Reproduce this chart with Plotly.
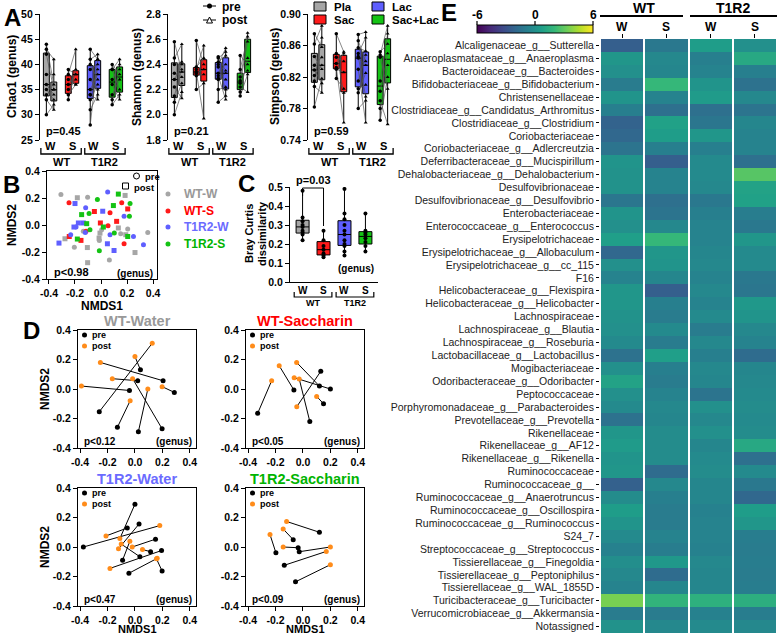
import plotly.graph_objects as go

W, H = 778, 635
FONT = "Liberation Sans, Arial, sans-serif"

GROUP_COLORS = ["#a6a6a6", "#ff1a1a", "#5f5fff", "#14c314"]
TEXT_COLORS = ["#999999", "#ff0000", "#6b6bff", "#00b400"]
ORANGE = "#ff8c1a"

# ---------------- A: alpha diversity (groups WT-W, WT-S, T1R2-W, T1R2-S) ----------------
chao1_pre = [
    [44, 43, 42, 38, 36, 35, 34, 33, 30],
    [39, 38, 37, 36, 35, 34, 33],
    [43, 41, 40, 39, 37, 35, 34, 34, 33, 31, 28],
    [40, 39, 39, 37, 36, 34, 33, 32],
]
chao1_post = [
    [36, 41, 35, 38, 34, 33, 35, 31, 32],
    [38, 43, 36, 38, 37, 36, 39],
    [41, 42, 37, 40, 35, 38, 39, 33, 36, 34, 41],
    [38, 41, 35, 40, 33, 37, 39, 34],
]
shannon_pre = [
    [2.58, 2.45, 2.40, 2.33, 2.28, 2.22, 2.15, 2.10, 2.00],
    [2.59, 2.38, 2.36, 2.34, 2.33, 2.31, 2.20],
    [2.46, 2.45, 2.42, 2.40, 2.38, 2.33, 2.31, 2.29, 2.28, 2.20, 2.10],
    [2.47, 2.36, 2.30, 2.27, 2.25, 2.22, 2.18, 2.15],
]
shannon_post = [
    [2.34, 2.56, 2.42, 2.30, 2.40, 2.13, 2.36, 2.25, 2.18],
    [2.40, 2.45, 2.55, 1.97, 2.36, 2.32, 2.25],
    [2.35, 2.50, 2.47, 2.53, 2.20, 2.40, 2.12, 2.28, 2.33, 2.22, 2.15],
    [2.40, 2.62, 2.35, 2.65, 2.58, 2.18, 2.45, 2.32],
]
simpson_pre = [
    [0.875, 0.862, 0.846, 0.835, 0.829, 0.822, 0.815, 0.808, 0.782],
    [0.875, 0.850, 0.845, 0.837, 0.832, 0.830, 0.818],
    [0.874, 0.866, 0.857, 0.850, 0.846, 0.844, 0.830, 0.815, 0.805, 0.800, 0.780],
    [0.852, 0.848, 0.845, 0.815, 0.802, 0.790, 0.780, 0.765],
]
simpson_post = [
    [0.858, 0.885, 0.830, 0.845, 0.812, 0.835, 0.870, 0.800, 0.818],
    [0.852, 0.800, 0.840, 0.850, 0.762, 0.826, 0.805],
    [0.877, 0.840, 0.853, 0.870, 0.795, 0.835, 0.762, 0.848, 0.810, 0.825, 0.790],
    [0.862, 0.885, 0.805, 0.875, 0.850, 0.760, 0.835, 0.820],
]

# ---------------- B: NMDS of all samples ----------------
nmds_wt_w_x = [-0.308, -0.182, -0.103, 0.185, -0.136, -0.277, -0.205, -0.105, -0.013, -0.008,
               0.005, 0.133, 0.205, 0.19, 0.151, 0.261, 0.359, -0.103, 0.064, -0.015]
nmds_wt_w_y = [0.226, 0.202, 0.206, 0.219, -0.047, -0.102, -0.164, -0.167, -0.114, -0.06,
               -0.035, -0.022, -0.03, -0.072, -0.065, -0.204, -0.055, -0.279, -0.259, -0.097]
nmds_wt_s_x = [-0.246, -0.051, -0.115, -0.154, 0.069, -0.005, 0.054, 0.12, 0.159, 0.205, 0.177, -0.244]
nmds_wt_s_y = [0.164, 0.1, -0.047, -0.114, 0.09, 0.015, -0.005, 0.027, 0.164, 0.119, -0.139, -0.085]
nmds_t1r2_w_x = [0.051, -0.2, -0.118, 0.013, 0.177, -0.174, -0.192, -0.208, -0.233, -0.323,
                 -0.121, 0.049, 0.069, 0.1, 0.326, -0.136, 0.249]
nmds_t1r2_w_y = [0.244, 0.159, 0.127, 0.102, 0.065, 0.015, -0.015, -0.015, -0.072, -0.134,
                 -0.055, -0.139, -0.072, -0.189, -0.147, 0.015, -0.085]
nmds_t1r2_s_x = [-0.028, 0.133, 0.223, 0.095, -0.092, -0.149, 0.218, -0.11, -0.085, 0.018,
                 0.102, -0.182, -0.013, 0.205]
nmds_t1r2_s_y = [0.189, 0.229, 0.159, 0.144, 0.085, 0.077, 0.065, 0.01, -0.035, -0.015,
                 -0.06, -0.104, -0.191, -0.085]

# ---------------- C: Bray-Curtis dissimilarity pre vs post ----------------
bc_wt_w = [0.48, 0.34, 0.32, 0.30, 0.29, 0.27, 0.26, 0.25, 0.22]
bc_wt_s = [0.27, 0.22, 0.19, 0.17, 0.15, 0.14, 0.13]
bc_t1r2_w = [0.49, 0.36, 0.33, 0.30, 0.27, 0.25, 0.22, 0.20, 0.19, 0.16, 0.14]
bc_t1r2_s = [0.36, 0.27, 0.26, 0.25, 0.23, 0.21, 0.19, 0.16]

# ---------------- D: per-animal NMDS shift (pre -> post) ----------------
wtw_pre_x = [-0.26, 0.205, -0.04, 0.02, 0.04, -0.128, 0.025, 0.287, 0.198]
wtw_pre_y = [-0.154, 0.056, -0.01, 0.056, 0.13, -0.26, -0.29, -0.023, -0.27]
wtw_post_x = [0.126, -0.252, -0.39, -0.165, 0.0, -0.035, 0.094, 0.198, -0.017]
wtw_post_y = [0.31, 0.18, 0.02, 0.07, 0.22, -0.08, 0.0, 0.016, 0.07]

wts_pre_x = [-0.33, -0.066, 0.12, 0.2, 0.05, 0.13, 0.15]
wts_pre_y = [-0.165, -0.007, 0.02, 0.0, -0.22, 0.12, -0.1]
wts_post_x = [-0.228, -0.173, -0.046, -0.064, -0.027, -0.045, 0.1]
wts_post_y = [0.056, 0.158, 0.18, 0.077, 0.068, -0.12, -0.05]

t1w_pre_x = [-0.376, 0.0, 0.03, -0.056, -0.09, 0.15, 0.114, 0.194, -0.044, 0.198, 0.036]
t1w_pre_y = [0.0, 0.29, 0.156, 0.129, -0.089, 0.053, -0.032, -0.024, -0.178, -0.163, -0.066]
t1w_post_x = [0.181, -0.11, -0.12, -0.211, -0.037, -0.02, 0.055, -0.182, 0.162, 0.157, -0.1]
t1w_post_y = [0.145, 0.057, -0.012, 0.075, 0.039, 0.0, -0.017, -0.145, -0.077, -0.08, 0.02]

t1s_pre_x = [-0.071, -0.197, -0.035, 0.12, -0.027, -0.136, -0.054]
t1s_pre_y = [0.05, -0.039, -0.005, 0.1, -0.032, -0.124, -0.236]
t1s_post_x = [-0.144, -0.24, -0.144, -0.119, 0.2, 0.17, 0.2]
t1s_post_y = [0.122, 0.084, 0.0, 0.173, 0.0, -0.03, -0.12]

# ---------------- E: heatmap of log2 fold change ----------------
heat_taxa = [
    "Alcaligenaceae_g__Sutterella", "Anaeroplasmataceae_g__Anaeroplasma", "Bacteroidaceae_g__Bacteroides",
    "Bifidobacteriaceae_g__Bifidobacterium", "Christensenellaceae", "Clostridiaceae_g__Candidatus_Arthromitus",
    "Clostridiaceae_g__Clostridium", "Coriobacteriaceae", "Coriobacteriaceae_g__Adlercreutzia",
    "Deferribacteraceae_g__Mucispirillum", "Dehalobacteriaceae_g__Dehalobacterium", "Desulfovibrionaceae",
    "Desulfovibrionaceae_g__Desulfovibrio", "Enterobacteriaceae", "Enterococcaceae_g__Enterococcus",
    "Erysipelotrichaceae", "Erysipelotrichaceae_g__Allobaculum", "Erysipelotrichaceae_g__cc_115", "F16",
    "Helicobacteraceae_g__Flexispira", "Helicobacteraceae_g__Helicobacter", "Lachnospiraceae",
    "Lachnospiraceae_g__Blautia", "Lachnospiraceae_g__Roseburia", "Lactobacillaceae_g__Lactobacillus",
    "Mogibacteriaceae", "Odoribacteraceae_g__Odoribacter", "Peptococcaceae",
    "Porphyromonadaceae_g__Parabacteroides", "Prevotellaceae_g__Prevotella", "Rikenellaceae",
    "Rikenellaceae_g__AF12", "Rikenellaceae_g__Rikenella", "Ruminococcaceae", "Ruminococcaceae_g__",
    "Ruminococcaceae_g__Anaerotruncus", "Ruminococcaceae_g__Oscillospira", "Ruminococcaceae_g__Ruminococcus",
    "S24_7", "Streptococcaceae_g__Streptococcus", "Tissierellaceae_g__Finegoldia",
    "Tissierellaceae_g__Peptoniphilus", "Tissierellaceae_g__WAL_1855D", "Turicibacteraceae_g__Turicibacter",
    "Verrucomicrobiaceae_g__Akkermansia", "Notassigned",
]
heat_wt_w = [-2.4, 0.3, 0.0, -1.0, 0.2, -0.8, -2.2, -2.0, -1.4, 0.2, 0.1, 0.1, -1.3, 0.2, 0.0, 0.7,
             -2.0, 0.0, -0.6, 0.3, 0.3, 0.1, 0.0, -0.3, -1.5, 0.0, 0.9, 0.0, -0.3, -1.5, 0.3, 0.5,
             0.2, 0.3, -2.3, -0.2, 0.6, 0.2, -0.3, -0.7, -0.1, -0.4, -0.6, 3.5, -1.0, 0.1]
heat_wt_s = [-1.2, -0.4, -0.5, 2.0, -0.6, -1.6, 0.8, 0.6, -0.8, -2.4, -0.6, -0.6, -1.6, -1.4, -0.4, 2.0,
             0.3, 0.2, -0.5, -2.4, -0.8, -1.0, -0.3, -1.0, 0.7, -0.8, -1.0, -0.6, -0.4, -0.5, -0.2, -0.2,
             -0.2, -1.8, -0.4, -0.8, -1.0, -1.0, -0.6, -0.9, 0.4, -1.8, -0.5, 1.8, -1.0, -0.4]
heat_t1r2_w = [0.6, -0.8, -0.6, 0.2, 0.5, -1.6, -1.3, 0.3, -0.8, -0.3, -0.3, -0.4, -1.2, -0.8, -0.6, -0.6,
               -0.5, -0.4, -0.6, -0.4, -0.6, -0.3, -1.0, -0.4, -0.8, -0.4, -0.5, -1.4, 0.0, -0.4, 0.0, -0.5,
               -0.3, -0.2, -0.5, -0.5, -0.7, -0.6, -0.6, -0.7, -0.4, -0.5, -0.5, 1.6, -0.7, -0.3]
heat_t1r2_s = [0.0, 1.2, -0.8, -1.5, -0.4, -1.4, -0.5, -0.6, -0.6, -1.6, 2.8, 0.9, 0.8, -0.9, -1.2, 0.3,
               -0.3, -0.3, -1.2, -1.3, 0.4, 0.2, -0.4, -0.6, -1.8, -0.5, -0.4, -0.3, -0.2, -0.3, -0.2, 1.2,
               -1.6, -0.3, -1.2, -2.0, 0.6, 0.3, -0.9, -1.0, -0.9, -1.0, -0.9, 1.5, -0.9, -0.4]


fig = go.Figure()
layout = dict(width=W, height=H, margin=dict(l=0, r=0, t=0, b=0, autoexpand=False),
              paper_bgcolor="white", plot_bgcolor="white", showlegend=False,
              font=dict(family=FONT, size=11, color="black"))
shapes, annotations = [], []


def fx(p):
    return p / W


def fy(p):
    return 1 - p / H


def ann(text, x, y, size=11, color="black", bold=True, xanchor="center", yanchor="middle",
        angle=0, xref="paper"):
    annotations.append(dict(
        text=text, x=fx(x) if xref == "paper" else x, y=fy(y), xref=xref, yref="paper",
        showarrow=False, textangle=angle, xanchor=xanchor, yanchor=yanchor,
        font=dict(family=FONT, size=size, color=color, weight="bold" if bold else "normal")))


def seg(x0, y0, x1, y1, xref="paper", width=1.2, color="black"):
    if xref == "paper":
        x0, x1 = fx(x0), fx(x1)
    shapes.append(dict(type="line", x0=x0, x1=x1, y0=fy(y0), y1=fy(y1), xref=xref, yref="paper",
                       line=dict(color=color, width=width)))


def add_axes(n, xdom, ydom, xopts, yopts):
    xk = "xaxis" if n == 1 else f"xaxis{n}"
    yk = "yaxis" if n == 1 else f"yaxis{n}"
    xid = "x" if n == 1 else f"x{n}"
    yid = "y" if n == 1 else f"y{n}"
    layout[xk] = dict(domain=[fx(xdom[0]), fx(xdom[1])], anchor=yid, showgrid=False, zeroline=False,
                      fixedrange=True, **xopts)
    layout[yk] = dict(domain=[fy(ydom[1]), fy(ydom[0])], anchor=xid, showgrid=False, zeroline=False,
                      fixedrange=True, **yopts)
    return xid, yid


TICKFONT = dict(family=FONT, size=10.5, color="black", weight="bold")
AXLINE = dict(showline=True, linecolor="black", linewidth=1.3, ticks="outside", ticklen=4,
              tickwidth=1.3, tickcolor="black", tickfont=TICKFONT)

# ================= panel A =================
a_panels = [
    ("Chao1 (genus)", chao1_pre, chao1_post, [25, 50], [25, 30, 35, 40, 45, 50], "d", "p=0.45", 40, 28),
    ("Shannon (genus)", shannon_pre, shannon_post, [1.8, 2.8], [1.8, 2.0, 2.2, 2.4, 2.6, 2.8], ".1f", "p=0.21", 168, 31),
    ("Simpson (genus)", simpson_pre, simpson_post, [0.74, 0.90], [0.74, 0.78, 0.82, 0.86, 0.90], ".2f", "p=0.59", 308, 33),
]
OFF = 0.17
for i, (title, pre, post, yr, tv, fmt, ptxt, x0, tdx) in enumerate(a_panels):
    xid, yid = add_axes(i + 1, (x0, x0 + 86), (14, 140),
                        dict(range=[0.54, 4.46], showline=False, showticklabels=False, ticks=""),
                        dict(range=yr, tickvals=tv, tickformat=fmt, **AXLINE))
    for g in range(4):
        for vals, off in ((pre[g], -OFF), (post[g], OFF)):
            fig.add_trace(go.Box(x=[g + 1 + off] * len(vals), y=vals, xaxis=xid, yaxis=yid, width=0.27,
                                 fillcolor=GROUP_COLORS[g], line=dict(color="black", width=1),
                                 boxpoints=False, whiskerwidth=0, hoverinfo="skip"))
        xs, ys, sy = [], [], []
        for a, b in zip(pre[g], post[g]):
            xs += [g + 1 - OFF, g + 1 + OFF, None]
            ys += [a, b, None]
            sy += ["circle", "triangle-up", "circle"]
        fig.add_trace(go.Scatter(x=xs, y=ys, xaxis=xid, yaxis=yid, mode="lines+markers",
                                 line=dict(color="#555555", width=0.7),
                                 marker=dict(size=3.5, color="black", symbol=sy), hoverinfo="skip"))
    ann(title, x0 - tdx, 77, size=12, angle=-90)
    ann(ptxt, x0 + 4, 131, size=11, xanchor="left")
    for g, lab in enumerate(["W", "S", "W", "S"]):
        ann(lab, g + 1, 146, size=11, xref=xid)
    for ga, lab in ((1, "WT"), (3, "T1R2")):
        shapes.append(dict(type="path", xref=xid, yref="paper",
                           path=f"M {ga - 0.42},{fy(148)} L {ga - 0.42},{fy(154)} L {ga + 1.42},{fy(154)} L {ga + 1.42},{fy(148)}",
                           line=dict(color="black", width=1.3)))
        ann(lab, ga + 0.5, 162, size=11, xref=xid)

# A legends
for yy, sym, lab in ((6, "circle", "pre"), (20, "triangle", "post")):
    seg(203, yy, 216, yy, width=1)
    if sym == "circle":
        shapes.append(dict(type="circle", xref="paper", yref="paper", x0=fx(207), x1=fx(212),
                           y0=fy(yy + 2.5), y1=fy(yy - 2.5), fillcolor="black", line=dict(width=0)))
    else:
        shapes.append(dict(type="path", xref="paper", yref="paper",
                           path=f"M {fx(206.5)},{fy(yy + 3)} L {fx(212.5)},{fy(yy + 3)} L {fx(209.5)},{fy(yy - 3)} Z",
                           fillcolor="white", line=dict(color="black", width=1)))
    ann(lab, 220, yy + 0.5, size=12, xanchor="left")
for (xx, yy, g, lab) in ((314, 6.5, 0, "Pla"), (314, 19.5, 1, "Sac"), (372, 6.5, 2, "Lac"), (372, 19.5, 3, "Sac+Lac")):
    shapes.append(dict(type="rect", xref="paper", yref="paper", x0=fx(xx), x1=fx(xx + 12),
                       y0=fy(yy + 4.5), y1=fy(yy - 4.5), fillcolor=GROUP_COLORS[g],
                       line=dict(color="black", width=1)))
    ann(lab, xx + 18, yy, size=11.5, xanchor="left")

# ================= panel B =================
NMDS_TICKS = [-0.4, -0.2, 0.0, 0.2, 0.4]
NMDS_TEXT = ["-0.4", "-0.2", "0.0", "0.2", "0.4"]
boxed = dict(AXLINE, mirror=True, tickvals=NMDS_TICKS, ticktext=NMDS_TEXT)
xid, yid = add_axes(4, (47, 157), (171, 279), dict(boxed, range=[-0.415, 0.43]),
                    dict(boxed, range=[-0.4, 0.4]))
b_sets = [(nmds_wt_w_x, nmds_wt_w_y), (nmds_wt_s_x, nmds_wt_s_y),
          (nmds_t1r2_w_x, nmds_t1r2_w_y), (nmds_t1r2_s_x, nmds_t1r2_s_y)]
for g, (bx, by) in enumerate(b_sets):
    sym = ["circle" if k % 2 == 0 else "square" for k in range(len(bx))]
    fig.add_trace(go.Scatter(x=bx, y=by, xaxis=xid, yaxis=yid, mode="markers",
                             marker=dict(size=5, color=GROUP_COLORS[g], symbol=sym), hoverinfo="skip"))
ann("NMDS2", 12, 225, size=12, angle=-90)
ann("NMDS1", 102, 306, size=12)
ann("p<0.98", 52, 272, size=11, xanchor="left")
ann("(genus)", 155, 273, size=10, xanchor="right")
shapes.append(dict(type="circle", xref="paper", yref="paper", x0=fx(133.5), x1=fx(139.5),
                   y0=fy(179), y1=fy(173), line=dict(color="black", width=1)))
ann("pre", 143, 176, size=9.5, xanchor="left")
shapes.append(dict(type="rect", xref="paper", yref="paper", x0=fx(122.5), x1=fx(128.5),
                   y0=fy(189), y1=fy(183), line=dict(color="black", width=1)))
ann("post", 132, 187, size=9.5, xanchor="left")
for g, (lab, yy) in enumerate(zip(["WT-W", "WT-S", "T1R2-W", "T1R2-S"], [194, 211, 227, 244])):
    shapes.append(dict(type="circle", xref="paper", yref="paper", x0=fx(165.5), x1=fx(170.5),
                       y0=fy(yy + 2.5), y1=fy(yy - 2.5), fillcolor=GROUP_COLORS[g], line=dict(width=0)))
    ann(lab, 182, yy, size=12, color=TEXT_COLORS[g], xanchor="left")

# ================= panel C =================
xid, yid = add_axes(5, (290, 378), (187, 282),
                    dict(range=[0.4, 4.6], showline=True, linecolor="black", linewidth=1.3,
                         showticklabels=False, ticks=""),
                    dict(range=[0, 0.5], tickvals=[0, 0.1, 0.2, 0.3, 0.4, 0.5], tickformat=".1f", **AXLINE))
for g, vals in enumerate([bc_wt_w, bc_wt_s, bc_t1r2_w, bc_t1r2_s]):
    fig.add_trace(go.Box(x=[g + 1] * len(vals), y=vals, xaxis=xid, yaxis=yid, width=0.62,
                         fillcolor=GROUP_COLORS[g], line=dict(color="black", width=1),
                         boxpoints=False, whiskerwidth=0, hoverinfo="skip"))
    fig.add_trace(go.Scatter(x=[g + 1] * len(vals), y=vals, xaxis=xid, yaxis=yid, mode="markers",
                             marker=dict(size=4, color="black"), hoverinfo="skip"))
ann("Bray Curtis", 249, 234, size=11, angle=-90)
ann("dissimilarity", 262, 234, size=11, angle=-90)
for g, lab in enumerate(["W", "S", "W", "S"]):
    ann(lab, g + 1, 290, size=10, xref=xid)
for ga, lab in ((1, "WT"), (3, "T1R2")):
    shapes.append(dict(type="path", xref=xid, yref="paper",
                       path=f"M {ga - 0.4},{fy(292)} L {ga - 0.4},{fy(297)} L {ga + 1.4},{fy(297)} L {ga + 1.4},{fy(292)}",
                       line=dict(color="black", width=1.2)))
    ann(lab, ga + 0.5, 303, size=9, xref=xid)
shapes.append(dict(type="path", xref=xid, yref="paper",
                   path=f"M 1,{fy(196)} L 1,{fy(188)} L 2,{fy(188)} L 2,{fy(226)}",
                   line=dict(color="black", width=1)))
ann("p=0.03", 1.5, 180, size=11, xref=xid)
ann("(genus)", 376, 268, size=10, xanchor="right")

# ================= panel D =================
d_panels = [
    ("WT-Water", TEXT_COLORS[0], wtw_pre_x, wtw_pre_y, wtw_post_x, wtw_post_y, "p<0.12", 78, 330, True, False),
    ("WT-Saccharin", TEXT_COLORS[1], wts_pre_x, wts_pre_y, wts_post_x, wts_post_y, "p<0.05", 246, 330, False, False),
    ("T1R2-Water", TEXT_COLORS[2], t1w_pre_x, t1w_pre_y, t1w_post_x, t1w_post_y, "p<0.47", 78, 488, True, True),
    ("T1R2-Saccharin", TEXT_COLORS[3], t1s_pre_x, t1s_pre_y, t1s_post_x, t1s_post_y, "p<0.09", 246, 488, False, True),
]
for k, (title, tcol, px_, py_, qx_, qy_, ptxt, x0, y0, left, bottom) in enumerate(d_panels):
    xid, yid = add_axes(6 + k, (x0, x0 + 118), (y0, y0 + 118), dict(boxed, range=[-0.415, 0.445]),
                        dict(boxed, range=[-0.4, 0.4]))
    lx, ly = [], []
    for a, b, c, d in zip(px_, py_, qx_, qy_):
        lx += [a, c, None]
        ly += [b, d, None]
    fig.add_trace(go.Scatter(x=lx, y=ly, xaxis=xid, yaxis=yid, mode="lines",
                             line=dict(color="black", width=1), hoverinfo="skip"))
    fig.add_trace(go.Scatter(x=px_, y=py_, xaxis=xid, yaxis=yid, mode="markers",
                             marker=dict(size=5, color="black"), hoverinfo="skip"))
    fig.add_trace(go.Scatter(x=qx_, y=qy_, xaxis=xid, yaxis=yid, mode="markers",
                             marker=dict(size=5, color=ORANGE), hoverinfo="skip"))
    ann(title, x0 + 59, y0 - 9, size=14.5, color=tcol)
    for yy, col, lab in ((y0 + 5, "black", "pre"), (y0 + 16, ORANGE, "post")):
        shapes.append(dict(type="circle", xref="paper", yref="paper", x0=fx(x0 + 4), x1=fx(x0 + 9),
                           y0=fy(yy + 2.5), y1=fy(yy - 2.5), fillcolor=col, line=dict(width=0)))
        ann(lab, x0 + 12, yy, size=9, xanchor="left")
    ann(ptxt, x0 + 4, y0 + 111, size=10, xanchor="left")
    ann("(genus)", x0 + 116, y0 + 111, size=10, xanchor="right")
    if left:
        ann("NMDS2", x0 - 33, y0 + 59, size=12, angle=-90)
    if bottom:
        ann("NMDS1", x0 + 59, y0 + 141, size=11)

# ================= panel E =================
cols = ["WT-W", "WT-S", "T1R2-W", "T1R2-S"]
zrows = [list(r) for r in zip(heat_wt_w, heat_wt_s, heat_t1r2_w, heat_t1r2_s)]
xid, yid = add_axes(10, (600, 777), (39, 633),
                    dict(side="top", tickvals=cols, ticks="outside", showticklabels=False,
                         ticklen=4, tickwidth=1.3, tickcolor="black", showline=False),
                    dict(autorange="reversed", tickmode="array", tickvals=heat_taxa, ticks="outside",
                         ticklen=3, tickwidth=1, tickcolor="black", showline=False,
                         tickfont=dict(family=FONT, size=10.5, color="#222222")))
fig.add_trace(go.Heatmap(z=zrows, x=cols, y=heat_taxa, xaxis=xid, yaxis=yid, colorscale="Viridis",
                         zmin=-6, zmax=6, xgap=2, hoverinfo="skip",
                         colorbar=dict(orientation="h", x=fx(477), xanchor="left", y=fy(25), yanchor="top",
                                       len=116 / W, lenmode="fraction", thickness=8, thicknessmode="pixels",
                                       outlinewidth=1, outlinecolor="black", ticks="", showticklabels=False,
                                       xpad=0, ypad=0)))
for k, lab in enumerate(["W", "S", "W", "S"]):
    ann(lab, cols[k], 27, size=12, xref=xid)
for v, lab in ((-6, "-6"), (0, "0"), (6, "6")):
    xx = 477 + (v + 6) / 12 * 116
    seg(xx, 21, xx, 25, width=1.2)
    ann(lab, xx, 15, size=12)
seg(600, 16, 683, 16, width=2)
seg(690, 16, 777, 16, width=2)
ann("WT", 644, 8, size=14)
ann("T1R2", 733, 8, size=14)

# panel letters
for lab, x, y in (("A", 12, 17), ("B", 11, 184), ("C", 247, 183), ("D", 31, 330), ("E", 449, 13)):
    ann(lab, x, y, size=24)

layout["shapes"] = shapes
layout["annotations"] = annotations
fig.update_layout(**layout)
fig.write_html("out.html", config={"displayModeBar": False},
               post_script="document.body.style.margin='0';document.body.style.overflow='hidden';")
